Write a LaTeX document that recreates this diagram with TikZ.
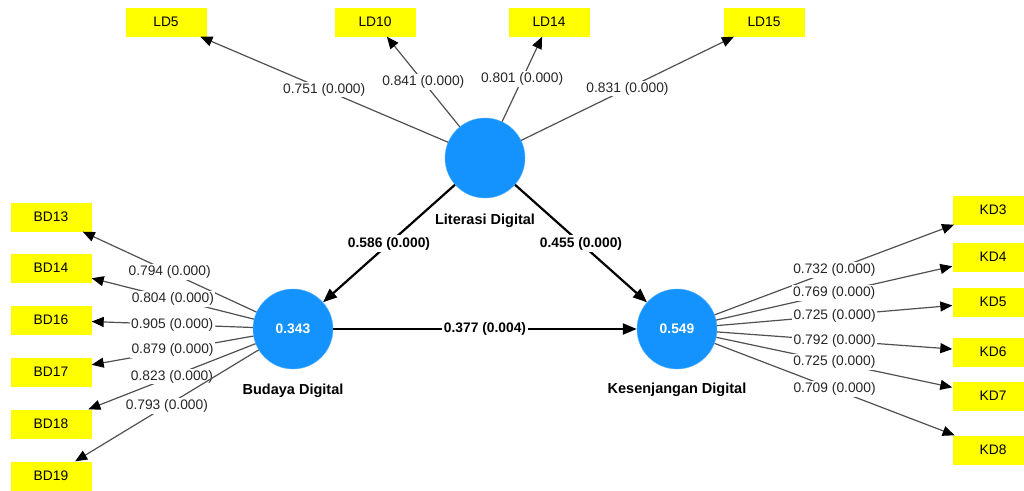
\documentclass[tikz,border=0pt]{standalone}
\usepackage{fontspec}
\setmainfont{Liberation Sans}
\usetikzlibrary{arrows.meta,positioning}
\definecolor{lvblue}{HTML}{1493FF}
\definecolor{indyellow}{HTML}{FFFF00}
\definecolor{loadgray}{HTML}{505050}
\newcommand{\pxfont}{\fontsize{13.8}{16}\selectfont}
\tikzset{
  latent/.style={circle, fill=lvblue, draw=lvblue!70, minimum size=80pt, inner sep=0pt,
    text=white, font=\pxfont\bfseries},
  indicator/.style={rectangle, fill=indyellow, minimum width=81pt, minimum height=29pt,
    inner sep=0pt, font=\pxfont},
  latentname/.style={font=\fontsize{14.5}{17}\selectfont\bfseries, inner sep=1pt},
  loadarrow/.style={-{Triangle[length=12pt,width=10pt,color=black]}, line width=1.2pt, draw=loadgray},
  patharrow/.style={-{Triangle[length=14pt,width=11pt]}, line width=2.2pt, draw=black},
  loadlabel/.style={font=\pxfont, fill=white, inner sep=1.5pt, text=black!85},
  pathlabel/.style={font=\pxfont\bfseries, fill=white, inner sep=2pt}
}

\begin{document}
\begin{tikzpicture}[x=1pt, y=-1pt]
    \useasboundingbox (0,0) rectangle (1024,490);

    % latent variables
    \node[latent] (ld) at (485,158) {};
    \node[latent] (bd) at (293,329) {0.343};
    \node[latent] (kd) at (677,329) {0.549};
    \node[latentname] (ldname) at (485,221) {Literasi Digital};
    \node[latentname] (bdname) at (293,391) {Budaya Digital};
    \node[latentname] (kdname) at (677,390) {Kesenjangan Digital};

    % indicators of Literasi Digital
    \node[indicator] (ld5) at (166,22) {LD5};
    \node[indicator] (ld10) at (375,22) {LD10};
    \node[indicator] (ld14) at (549,22) {LD14};
    \node[indicator] (ld15) at (764,22) {LD15};

    % indicators of Budaya Digital
    \node[indicator] (bd13) at (51,217) {BD13};
    \node[indicator] (bd14) at (51,268) {BD14};
    \node[indicator] (bd16) at (51,320) {BD16};
    \node[indicator] (bd17) at (51,372) {BD17};
    \node[indicator] (bd18) at (51,424) {BD18};
    \node[indicator] (bd19) at (51,476) {BD19};

    % indicators of Kesenjangan Digital
    \node[indicator] (kd3) at (993,210) {KD3};
    \node[indicator] (kd4) at (993,257) {KD4};
    \node[indicator] (kd5) at (993,302) {KD5};
    \node[indicator] (kd6) at (993,352) {KD6};
    \node[indicator] (kd7) at (993,396) {KD7};
    \node[indicator] (kd8) at (993,450) {KD8};

    % outer loadings
    \draw[loadarrow] (ld) -- node[loadlabel] {0.751 (0.000)} (ld5);
    \draw[loadarrow] (ld) -- node[loadlabel] {0.841 (0.000)} (ld10);
    \draw[loadarrow] (ld) -- node[loadlabel] {0.801 (0.000)} (ld14);
    \draw[loadarrow] (ld) -- node[loadlabel] {0.831 (0.000)} (ld15);

    \draw[loadarrow] (bd) -- node[loadlabel] {0.794 (0.000)} (bd13);
    \draw[loadarrow] (bd) -- node[loadlabel] {0.804 (0.000)} (bd14);
    \draw[loadarrow] (bd) -- node[loadlabel] {0.905 (0.000)} (bd16);
    \draw[loadarrow] (bd) -- node[loadlabel] {0.879 (0.000)} (bd17);
    \draw[loadarrow] (bd) -- node[loadlabel] {0.823 (0.000)} (bd18);
    \draw[loadarrow] (bd) -- node[loadlabel] {0.793 (0.000)} (bd19);

    \draw[loadarrow] (kd) -- node[loadlabel] {0.732 (0.000)} (kd3);
    \draw[loadarrow] (kd) -- node[loadlabel] {0.769 (0.000)} (kd4);
    \draw[loadarrow] (kd) -- node[loadlabel] {0.725 (0.000)} (kd5);
    \draw[loadarrow] (kd) -- node[loadlabel] {0.792 (0.000)} (kd6);
    \draw[loadarrow] (kd) -- node[loadlabel] {0.725 (0.000)} (kd7);
    \draw[loadarrow] (kd) -- node[loadlabel] {0.709 (0.000)} (kd8);

    % structural paths
    \draw[patharrow] (ld) -- node[pathlabel] {0.586 (0.000)} (bd);
    \draw[patharrow] (ld) -- node[pathlabel] {0.455 (0.000)} (kd);
    \draw[patharrow] (bd) -- node[pathlabel] {0.377 (0.004)} (kd);
\end{tikzpicture}
\end{document}
